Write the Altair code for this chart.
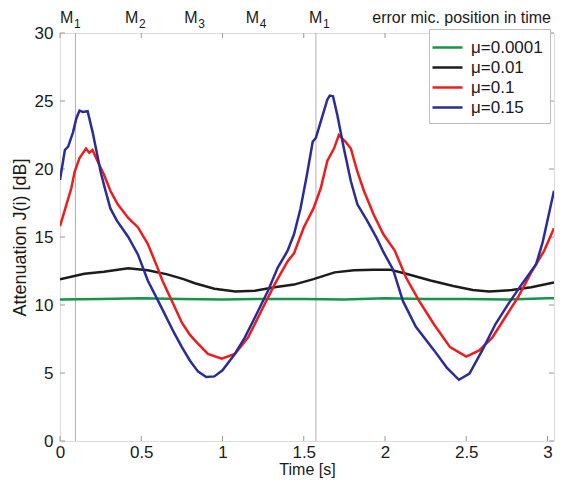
import altair as alt
import pandas as pd

# ---------------- data ----------------
series_names = ["\u03bc=0.0001", "\u03bc=0.01", "\u03bc=0.1", "\u03bc=0.15"]
series_colors = ["#13954a", "#1c1c1c", "#ee1c1c", "#2a2d96"]

t_green = [0, 0.25, 0.5, 0.75, 1.0, 1.25, 1.5, 1.75, 2.0, 2.25, 2.5, 2.75, 3.0, 3.04]
y_green = [10.4, 10.45, 10.5, 10.45, 10.4, 10.45, 10.45, 10.4, 10.5, 10.45, 10.45, 10.4, 10.5, 10.5]

t_black = [0, 0.15, 0.27, 0.42, 0.54, 0.66, 0.76, 0.83, 0.95, 1.08, 1.2, 1.32, 1.44,
           1.56, 1.69, 1.81, 1.93, 2.03, 2.13, 2.28, 2.42, 2.54, 2.64, 2.78, 2.90, 3.04]
y_black = [11.9, 12.3, 12.45, 12.7, 12.55, 12.25, 11.9, 11.6, 11.2, 11.0, 11.05, 11.3, 11.5,
           11.9, 12.4, 12.55, 12.6, 12.6, 12.3, 11.8, 11.4, 11.1, 11.0, 11.1, 11.3, 11.65]

t_red = [0, 0.04, 0.07, 0.09, 0.12, 0.16, 0.18, 0.20, 0.23, 0.27, 0.31, 0.355, 0.42, 0.48,
         0.54, 0.60, 0.63, 0.70, 0.75, 0.80, 0.83, 0.91, 0.995, 1.076, 1.157, 1.24, 1.32,
         1.40, 1.44, 1.50, 1.56, 1.605, 1.645, 1.686, 1.716, 1.757, 1.79, 1.83, 1.87, 1.93,
         1.99, 2.06, 2.13, 2.21, 2.30, 2.40, 2.50, 2.58, 2.66, 2.74, 2.82, 2.905, 2.98, 3.04]
y_red = [15.8, 17.4, 18.6, 19.8, 20.8, 21.5, 21.2, 21.4, 20.6, 19.6, 18.4, 17.4, 16.4, 15.7,
         14.5, 12.75, 11.8, 10.0, 8.7, 7.8, 7.4, 6.4, 6.05, 6.4, 7.6, 9.6, 11.5,
         13.2, 13.8, 15.7, 17.1, 18.6, 20.6, 21.5, 22.5, 22.0, 21.5, 19.8, 18.4, 16.65,
         15.2, 14.0, 12.0, 10.3, 8.6, 6.9, 6.2, 6.66, 7.6, 9.1, 10.6, 12.5, 14.0, 15.65]

t_blue = [0, 0.03, 0.05, 0.08, 0.10, 0.12, 0.14, 0.17, 0.20, 0.23, 0.25, 0.28, 0.31, 0.35,
          0.42, 0.48, 0.54, 0.60, 0.65, 0.70, 0.75, 0.80, 0.85, 0.90, 0.95, 1.00, 1.076,
          1.137, 1.20, 1.28, 1.34, 1.40, 1.44, 1.48, 1.52, 1.555, 1.575, 1.605, 1.645, 1.66,
          1.68, 1.706, 1.747, 1.79, 1.83, 1.89, 1.95, 1.99, 2.05, 2.11, 2.19, 2.30, 2.38,
          2.455, 2.52, 2.60, 2.68, 2.76, 2.84, 2.93, 2.97, 3.04]
y_blue = [19.2, 21.4, 21.65, 22.7, 23.7, 24.3, 24.2, 24.25, 22.75, 21.0, 19.8, 18.4, 17.1, 16.2,
          15.0, 13.7, 11.8, 10.4, 9.2, 8.0, 6.9, 5.9, 5.1, 4.7, 4.75, 5.2, 6.4,
          7.6, 9.1, 11.05, 12.75, 13.97, 15.2, 17.1, 19.6, 22.0, 22.3, 23.5, 25.1, 25.4,
          25.35, 24.0, 21.5, 19.1, 17.4, 16.2, 14.9, 13.9, 12.6, 10.3, 8.4, 6.7, 5.4,
          4.5, 4.95, 6.7, 8.6, 10.1, 11.5, 13.0, 14.6, 18.4]

mic_times = [0.095, 1.575]                       # vertical marker lines
mic_label_t = [0.0, 0.40, 0.765, 1.143, 1.533]   # label positions (time)
mic_label_sub = ["1", "2", "3", "4", "1"]

x_tick_vals = [0, 0.5, 1, 1.5, 2, 2.5, 3]
y_tick_vals = [0, 5, 10, 15, 20, 25, 30]

# ---------------- build tables ----------------
rows = []
for name, ts, ys in zip(series_names,
                        [t_green, t_black, t_red, t_blue],
                        [y_green, y_black, y_red, y_blue]):
    for t, y in zip(ts, ys):
        rows.append({"t": t, "J": y, "series": name})
df = pd.DataFrame(rows)

W, H = 494, 408
FONT = "Liberation Sans"
GREY = "#9a9a9a"
TXT = "#1a1a1a"

x_scale = alt.Scale(domain=[0, 3.04], nice=False, zero=False)
y_scale = alt.Scale(domain=[0, 30], nice=False)

x_axis = alt.Axis(values=x_tick_vals, title="Time [s]", grid=False, domain=False, ticks=False,
                  format="~g", labelFontSize=17, labelFont=FONT, labelColor=TXT, labelPadding=3,
                  titleFontSize=16, titleFont=FONT, titleFontWeight="normal", titleColor=TXT,
                  titlePadding=1, labelFlush=False)
y_axis = alt.Axis(values=y_tick_vals, title="Attenuation J(i) [dB]", grid=False, domain=False,
                  ticks=False, format="~g", labelFontSize=17, labelFont=FONT, labelColor=TXT,
                  labelPadding=7, titleFontSize=18, titleFont=FONT, titleFontWeight="normal",
                  titleColor=TXT, titlePadding=5, labelFlush=False)

LEG_W = 123
lines = alt.Chart(df).mark_line(strokeWidth=2.5, clip=True).encode(
    x=alt.X("t:Q", scale=x_scale, axis=x_axis),
    y=alt.Y("J:Q", scale=y_scale, axis=y_axis),
    color=alt.Color("series:N",
                    scale=alt.Scale(domain=series_names, range=series_colors),
                    legend=alt.Legend(orient="none", legendX=W - LEG_W - 2, legendY=-4,
                                      title=None, fillColor="white", strokeColor="#bdbdbd",
                                      padding=7, symbolType="M-1.5,0H1.5", symbolSize=400,
                                      symbolStrokeWidth=2.5, labelFontSize=17, labelFont=FONT,
                                      labelColor=TXT, labelOffset=12, rowPadding=0)),
    detail="series:N",
)

mic_df = pd.DataFrame({"t": mic_times})
mic_rules = alt.Chart(mic_df).mark_rule(color="#b0b0b0", strokeWidth=1).encode(
    x=alt.X("t:Q", scale=x_scale))

lab_df = pd.DataFrame({"t": mic_label_t, "sub": mic_label_sub, "M": ["M"] * 5})
m_text = alt.Chart(lab_df).mark_text(align="left", baseline="alphabetic", fontSize=16,
                                     font=FONT, color=TXT).encode(
    x=alt.X("t:Q", scale=x_scale), y=alt.value(-10), text="M:N")
m_sub = alt.Chart(lab_df).mark_text(align="left", baseline="alphabetic", fontSize=12,
                                    font=FONT, color=TXT, dx=14).encode(
    x=alt.X("t:Q", scale=x_scale), y=alt.value(-5), text="sub:N")

err_text = alt.Chart(pd.DataFrame({"txt": ["error mic. position in time"]})).mark_text(
    align="right", baseline="alphabetic", fontSize=16, font=FONT, color=TXT).encode(
    x=alt.value(W - 3), y=alt.value(-10), text="txt:N")

xt = pd.DataFrame({"v": x_tick_vals})
yt = pd.DataFrame({"v": y_tick_vals})
tick_bottom = alt.Chart(xt).mark_rule(color=GREY).encode(
    x=alt.X("v:Q", scale=x_scale), y=alt.value(H), y2=alt.value(H - 5))
tick_top = alt.Chart(xt).mark_rule(color=GREY).encode(
    x=alt.X("v:Q", scale=x_scale), y=alt.value(0), y2=alt.value(5))
tick_left = alt.Chart(yt).mark_rule(color=GREY).encode(
    y=alt.Y("v:Q", scale=y_scale), x=alt.value(0), x2=alt.value(5))
tick_right = alt.Chart(yt).mark_rule(color=GREY).encode(
    y=alt.Y("v:Q", scale=y_scale), x=alt.value(W), x2=alt.value(W - 5))

chart = alt.layer(
    mic_rules, tick_bottom, tick_top, tick_left, tick_right, lines, m_text, m_sub, err_text
).properties(
    width=W, height=H,
    autosize=alt.AutoSizeParams(type="none"),
    padding={"left": 52, "top": 25, "right": 1, "bottom": 39},
).configure_view(stroke=GREY, strokeWidth=1).configure(background="white")

chart.save("out.html", embed_options={"renderer": "svg", "actions": False})
